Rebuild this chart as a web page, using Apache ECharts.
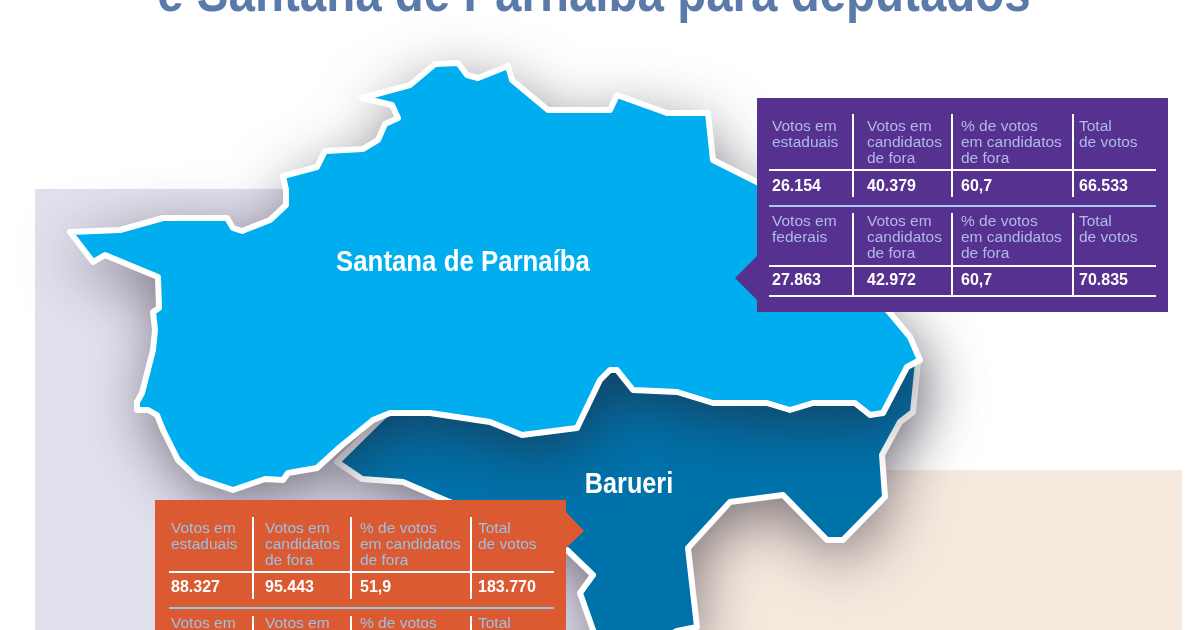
<!DOCTYPE html>
<html>
<head>
<meta charset="utf-8">
<style>html,body{margin:0;padding:0;background:#fff}#main{width:1200px;height:630px}</style>
<script src="https://cdn.jsdelivr.net/npm/echarts@6/dist/echarts.min.js"></script>
</head>
<body>
<div id="main"></div>
<script>
// outlines
var santanaOutline = [[70,232],[120,230],[163,218],[227,218],[233,228],[242,231],[270,220],[286,205],[286,190],[283,176],[317,167],[325,151],[363,149],[378,140],[385,124],[398,118],[392,105],[362,98],[410,85],[435,64],[458,63],[467,75],[478,78],[508,66],[512,80],[548,110],[610,110],[617,95],[667,113],[708,113],[713,160],[757,182],[800,210],[860,280],[890,313],[910,337],[920,360],[907,367],[883,413],[870,415],[855,403],[813,403],[790,410],[767,403],[713,403],[677,392],[633,390],[617,370],[610,370],[600,380],[577,428],[522,435],[490,422],[430,413],[390,413],[373,420],[340,447],[317,468],[288,473],[283,480],[265,479],[233,490],[197,478],[178,460],[163,430],[157,415],[148,410],[137,410],[137,402],[142,393],[153,350],[155,330],[153,312],[159,308],[158,277],[105,255],[93,262]];
var barueriOutline = [[918,362],[913,412],[900,422],[882,455],[885,497],[843,540],[827,540],[783,495],[730,502],[688,548],[697,627],[677,631],[640,650],[600,650],[593,630],[580,593],[593,575],[567,550],[445,500],[403,482],[362,479],[337,462],[400,400],[620,360],[900,350]];

var cityNames = ['Barueri', 'Santana de Parnaíba'];
var cityTotals = [183770, 70835];

var headEstaduais = ['Votos em\nestaduais', 'Votos em\ncandidatos\nde fora', '% de votos\nem candidatos\nde fora', 'Total\nde votos'];
var headFederais = ['Votos em\nfederais', 'Votos em\ncandidatos\nde fora', '% de votos\nem candidatos\nde fora', 'Total\nde votos'];
var santanaEstaduais = ['26.154', '40.379', '60,7', '66.533'];
var santanaFederais = ['27.863', '42.972', '60,7', '70.835'];
var barueriEstaduais = ['88.327', '95.443', '51,9', '183.770'];
var titleText = 'e Santana de Parnaíba para deputados';

var sans = '"Liberation Sans", sans-serif';

// a series per map key, ECharts only draws one series for each key
function registerCity(key, name, ring) {
    echarts.registerMap(key, {
        type: 'FeatureCollection',
        features: [{
            type: 'Feature',
            properties: {name: name},
            geometry: {type: 'Polygon', coordinates: [ring.concat([ring[0]])]}
        }]
    });
}
registerCity('barueriShadow', cityNames[0], barueriOutline);
registerCity('barueri', cityNames[0], barueriOutline);
registerCity('santanaShadow', cityNames[1], santanaOutline);
registerCity('santana', cityNames[1], santanaOutline);

var graphics = [
    {type: 'rect', z: 0, shape: {x: 35, y: 189, width: 640, height: 441}, style: {fill: '#e3e0ee'}},
    {type: 'rect', z: 0, shape: {x: 675, y: 470, width: 507, height: 160}, style: {fill: '#f6e9de'}},
    {type: 'text', z: 12, x: 594, y: -4, scaleX: 0.848, style: {
        text: titleText, fill: '#5a7ba9', align: 'center', verticalAlign: 'middle', font: 'bold 56px ' + sans
    }},
    {type: 'text', z: 12, x: 463, y: 263, scaleX: 0.89, style: {
        text: cityNames[1], fill: '#fff', align: 'center', verticalAlign: 'middle', font: 'bold 29px ' + sans
    }},
    {type: 'text', z: 12, x: 629, y: 485, scaleX: 0.87, style: {
        text: cityNames[0], fill: '#fff', align: 'center', verticalAlign: 'middle', font: 'bold 29px ' + sans
    }}
];

function line(x1, y1, x2, y2, color, w) {
    graphics.push({type: 'line', z: 11, shape: {x1: x1, y1: y1, x2: x2, y2: y2}, style: {stroke: color, lineWidth: w}});
}

function label(x, y, text, color, bold) {
    graphics.push({type: 'text', z: 12, style: {
        x: x, y: y, text: text, fill: color, verticalAlign: 'top',
        font: (bold ? 'bold 16px ' : '15.5px ') + sans, lineHeight: 16
    }});
}

// y = [divider top, head top, rule, value top, divider bottom]
function tableRow(cols, divs, left, right, y, heads, values, headColor) {
    heads.forEach(function(h, i) { label(cols[i], y[1], h, headColor, false); });
    divs.forEach(function(x) { line(x, y[0], x, y[4], '#fff', 2); });
    line(left, y[2], right, y[2], '#fff', 2);
    values.forEach(function(v, i) { label(cols[i], y[3], v, '#fff', true); });
}

// purple panel
graphics.push({type: 'polygon', z: 10, shape: {points: [[757,98],[1168,98],[1168,312],[757,312],[757,300],[735,278],[757,256]]}, style: {fill: '#57318f'}});
var purpleCols = [772, 867, 961, 1079], purpleDivs = [853, 952, 1073];
tableRow(purpleCols, purpleDivs, 769, 1156, [114, 119, 170, 179, 197], headEstaduais, santanaEstaduais, '#aebbe8');
line(769, 206, 1156, 206, '#a9c8f0', 2);
tableRow(purpleCols, purpleDivs, 769, 1156, [213, 214, 266, 273, 296], headFederais, santanaFederais, '#aebbe8');
line(769, 296, 1156, 296, '#fff', 2);

// orange panel, runs off the bottom of the page
graphics.push({type: 'polygon', z: 10, shape: {points: [[155,500],[566,500],[566,512],[584,531],[566,548],[566,640],[155,640]]}, style: {fill: '#dc5a32'}});
var orangeCols = [171, 265, 360, 478], orangeDivs = [253, 351, 471];
tableRow(orangeCols, orangeDivs, 169, 554, [517, 521, 572, 580, 599], headEstaduais, barueriEstaduais, '#9cc0e0');
line(169, 608, 554, 608, '#8ccbe8', 2);
headFederais.forEach(function(h, i) { label(orangeCols[i], 616, h, '#9cc0e0', false); });
orangeDivs.forEach(function(x) { line(x, 616, x, 630, '#fff', 2); });

// each city twice: fill with shadow, then fill with white border, so the border's shadow stays off the fill
function citySeries(key, i, color, z, withShadow) {
    return {
        type: 'map',
        map: key,
        z: z,
        left: 0, top: 0, width: 1200, height: 630,
        aspectScale: 1,
        boundingCoords: [[0, 0], [1200, 630]],
        projection: {
            project: function(p) { return p; },
            unproject: function(p) { return p; }
        },
        selectedMode: false,
        silent: true,
        label: {show: false},
        itemStyle: withShadow ? {
            areaColor: color,
            borderWidth: 0,
            shadowBlur: 60,
            shadowOffsetX: 4,
            shadowOffsetY: 16,
            shadowColor: 'rgba(35,30,45,0.58)'
        } : {
            areaColor: color,
            borderColor: '#fff',
            borderWidth: 6,
            borderJoin: 'round'
        },
        data: [{name: cityNames[i], value: cityTotals[i]}]
    };
}

var myChart = echarts.init(document.getElementById('main'));
var option = {
    animation: false,
    backgroundColor: '#fff',
    graphic: graphics,
    series: [
        citySeries('barueriShadow', 0, '#0072aa', 2, true),
        citySeries('barueri', 0, '#0072aa', 3, false),
        citySeries('santanaShadow', 1, '#00adef', 4, true),
        citySeries('santana', 1, '#00adef', 5, false)
    ]
};
if (option && typeof option === "object") {
    myChart.setOption(option, true);
}
</script>
</body>
</html>
